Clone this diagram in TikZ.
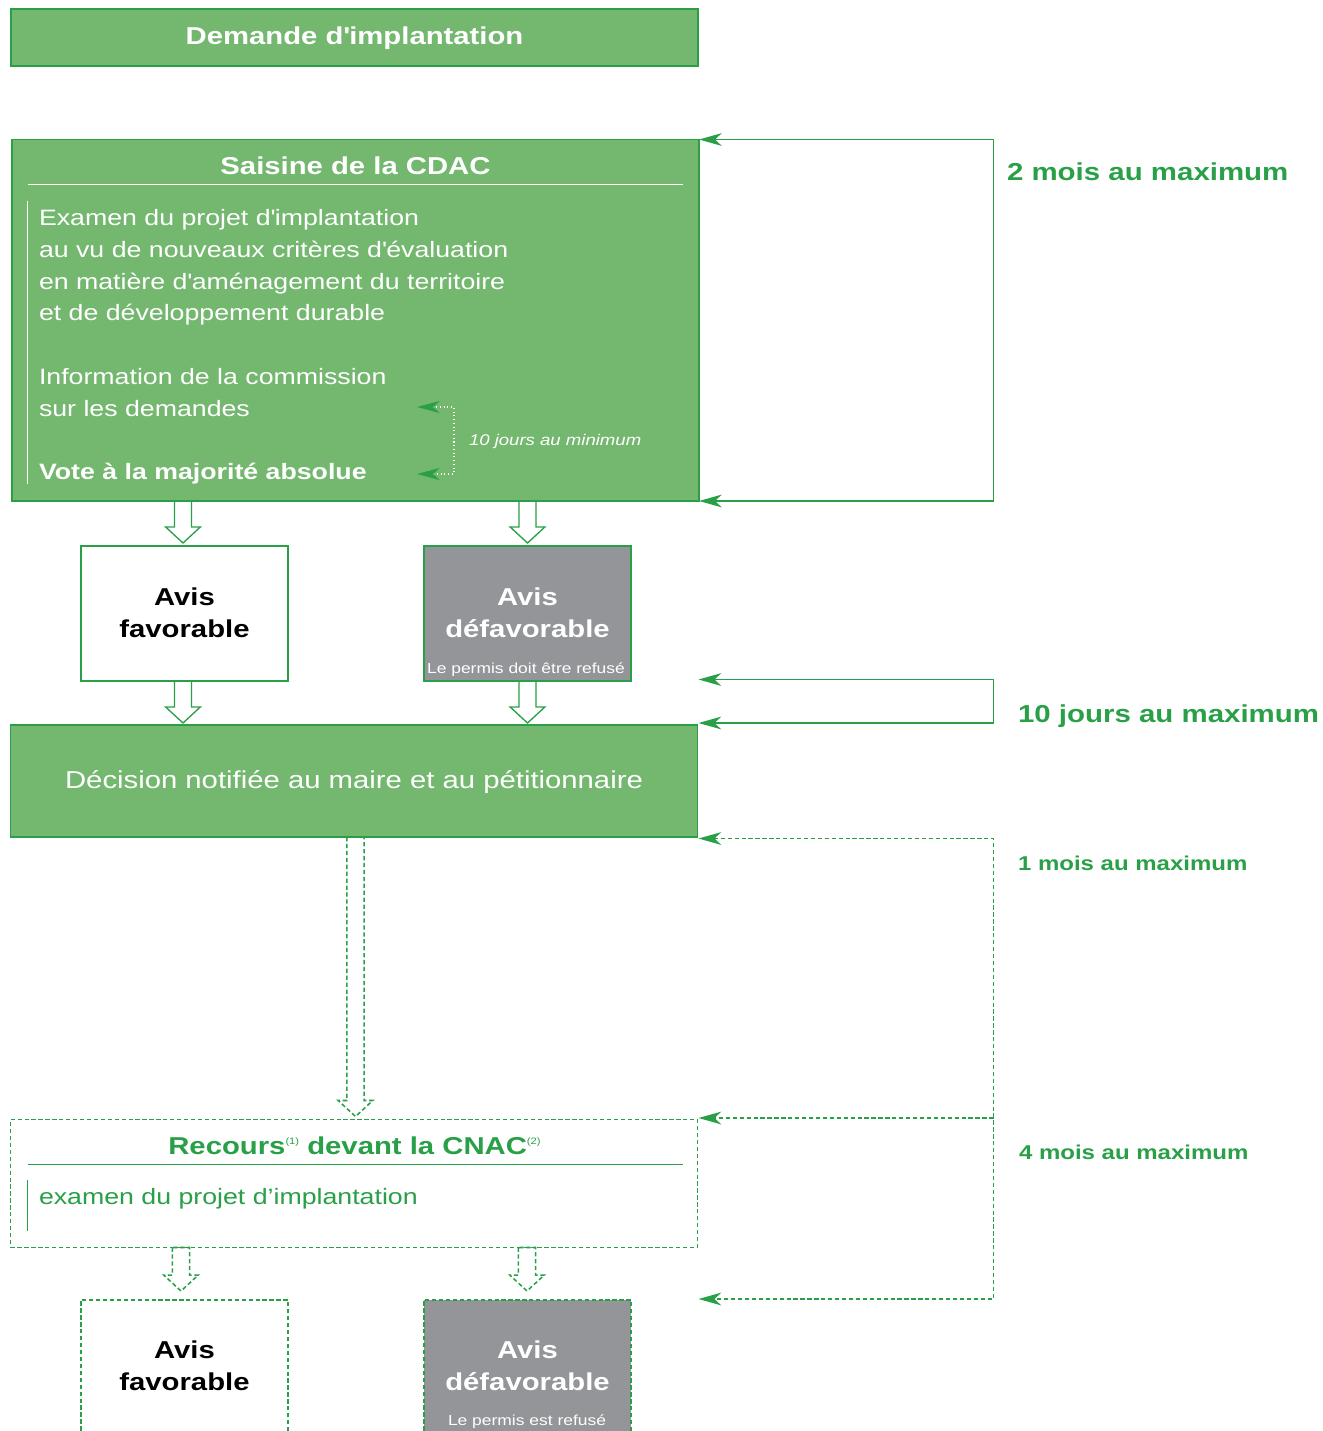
\documentclass[tikz,border=0pt]{standalone}
\usepackage{fontspec}
\setmainfont[FakeStretch=1.2]{Liberation Sans}
\usetikzlibrary{arrows.meta,calc}
\definecolor{boxgreen}{RGB}{116,184,112}
\definecolor{linegreen}{RGB}{41,160,72}
\definecolor{txtgreen}{RGB}{41,160,72}
\definecolor{avisgray}{RGB}{147,149,152}
\newcommand\fTitle{\fontsize{18.3}{22}\selectfont\bfseries}
\newcommand\fBody{\fontsize{16.7}{20}\selectfont}
\newcommand\fItal{\fontsize{11.6}{14}\selectfont\itshape}
\newcommand\fSmall{\fontsize{10.9}{13}\selectfont}
\newcommand\fLabel{\fontsize{18.4}{22}\selectfont\bfseries}
\newcommand\fLabelS{\fontsize{15}{18}\selectfont\bfseries}
\newcommand\aq{\textquotesingle}
\newcommand\supn[1]{{\fontsize{7}{7}\selectfont\mdseries\raisebox{7pt}{(#1)}}}
\newcommand\hollowarrow[3][]{%
  \draw[#1] let \p1=(#2), \p2=(#3) in
    (\x2-6.4pt,\y1) -- (\x2-6.4pt,\y2+12pt) -- (\x2-13pt,\y2+12pt) -- (\x2,\y2)
    -- (\x2+13pt,\y2+12pt) -- (\x2+6.4pt,\y2+12pt) -- (\x2+6.4pt,\y1) -- cycle;}
\tikzset{gtip/.tip={Stealth[length=17pt,width=9.5pt,inset=5pt]}}
\begin{document}
\begin{tikzpicture}[x=0.75pt,y=-0.75pt,
  gbox/.style={draw=linegreen, line width=1pt, fill=boxgreen, inner sep=0pt, outer sep=0pt, minimum width=515.25pt},
  wbox/.style={draw=linegreen, line width=1pt, fill=white, inner sep=0pt, outer sep=0pt, minimum width=155.25pt, minimum height=101.25pt},
  ybox/.style={wbox, fill=avisgray},
  dsh/.style={dash pattern=on 3.2pt off 2pt, line width=1.15pt},
  txt/.style={inner sep=0pt, outer sep=0pt, anchor=base},
  wtxt/.style={txt, text=white},
  btxt/.style={txt, anchor=base west, text=white},
  gtxt/.style={txt, anchor=base west, text=txtgreen},
  harrow/.style={draw=linegreen, line width=1pt, line join=miter},
  darrow/.style={harrow, dsh},
  brk/.style={draw=linegreen, line width=1.05pt, arrows={gtip-gtip}},
  brkone/.style={draw=linegreen, line width=1.05pt, arrows={-gtip}},
  minbr/.style={draw=white, line width=0.8pt, dotted, arrows={Stealth[length=17pt,width=9pt,inset=5pt,color=linegreen]-Stealth[length=17pt,width=9pt,inset=5pt,color=linegreen]}}
]
\useasboundingbox (0,0) rectangle (1322,1431);
\clip (0,0) rectangle (1322,1431);

% Demande
\node[gbox, minimum height=42.75pt] (demande) at (354.5,37.5) {};
\node[wtxt] (demandet) at (354.5,44) {\fTitle Demande d\aq implantation};

% CDAC
\node[gbox, minimum height=271.1pt] (cdac) at (355.5,320.25) {};
\node[wtxt] (cdact) at (355.5,174.5) {\fTitle Saisine de la CDAC};
\draw[white, line width=0.7pt] (28,184) -- (683,184);
\draw[white, line width=0.7pt] (27.5,201) -- (27.5,484);
\node[btxt] (b1) at (39,225) {\fBody Examen du projet d\aq implantation};
\node[btxt] (b2) at (39,257) {\fBody au vu de nouveaux critères d\aq évaluation};
\node[btxt] (b3) at (39,289) {\fBody en matière d\aq aménagement du territoire};
\node[btxt] (b4) at (39,320.5) {\fBody et de développement durable};
\node[btxt] (b5) at (39,384.5) {\fBody Information de la commission};
\node[btxt] (b6) at (39,416.5) {\fBody sur les demandes};
\node[btxt] (b7) at (39,479.5) {\fBody\bfseries Vote à la majorité absolue};
\coordinate (m1) at (417,407);
\coordinate (m2) at (417,474);
\coordinate (mx) at (454,0);
\draw[minbr] (m1) -- (m1 -| mx) -- (m2 -| mx) -- (m2);
\node[btxt] (mint) at (469,445.5) {\fItal 10 jours au minimum};

% Avis
\node[wbox] (fav) at (184.5,613.5) {};
\node[txt] (favt1) at (184.5,605) {\fTitle Avis};
\node[txt] (favt2) at (184.5,637) {\fTitle favorable};
\node[ybox] (defav) at (527.5,613.5) {};
\node[wtxt] (defavt1) at (527.5,605) {\fTitle Avis};
\node[wtxt] (defavt2) at (527.5,637) {\fTitle défavorable};
\node[wtxt] (defavt3) at (526,673) {\fSmall Le permis doit être refusé};

% Decision
\node[gbox, minimum height=84pt] (dec) at (354,781) {};
\node[wtxt] (dect) at (354,788) {\fontsize{18.3}{22}\selectfont Décision notifiée au maire et au pétitionnaire};

% Recours
\node[wbox, dsh, minimum width=515.25pt, minimum height=96pt] (recours) at (354,1183.5) {};
\node[txt, text=txtgreen] (recourst) at (354.5,1154) {\fTitle Recours\supn{1} devant la CNAC\supn{2}};
\draw[linegreen, line width=0.8pt] (28,1164.3) -- (683,1164.3);
\draw[linegreen, line width=0.8pt] (27.5,1180) -- (27.5,1231);
\node[gtxt] (recb) at (39,1204) {\fBody examen du projet d’implantation};

% bottom avis
\node[wbox, dsh, minimum height=120pt] (fav2) at (184.5,1380) {};
\node[txt] (fav2t1) at (184.5,1358) {\fTitle Avis};
\node[txt] (fav2t2) at (184.5,1390) {\fTitle favorable};
\node[ybox, dsh, minimum height=120pt] (defav2) at (527.5,1380) {};
\node[wtxt] (defav2t1) at (527.5,1358) {\fTitle Avis};
\node[wtxt] (defav2t2) at (527.5,1390) {\fTitle défavorable};
\node[wtxt] (defav2t3) at (527,1425) {\fSmall Le permis est refusé};

% hollow arrows
\hollowarrow[harrow]{cdac.south}{$(fav.north)+(-1.5,-3)$}
\hollowarrow[harrow]{cdac.south}{$(defav.north)+(0,-3)$}
\hollowarrow[harrow]{fav.south}{$(dec.north)!(fav.north)!(dec.north east)+(-1.5,-2)$}
\hollowarrow[harrow]{defav.south}{$(dec.north)!(defav.north)!(dec.north east)+(0,-2)$}
\hollowarrow[darrow]{dec.south}{$(recours.north)+(1.5,-3)$}
\hollowarrow[darrow]{recours.south}{$(fav2.north)+(-3.5,-9)$}
\hollowarrow[darrow]{recours.south}{$(defav2.north)+(-0.5,-9)$}

% right brackets
\coordinate (rx) at (993.5,0);
\draw[brk] (cdac.north east) -- (cdac.north east -| rx) -- (cdac.south east -| rx) -- (cdac.south east);
\draw[brk] ($(dec.north east |- defav.south)+(1,-1.5)$) -- ($(defav.south -| rx)+(0,-1.5)$) -- ($(dec.north east -| rx)+(0,-2)$) -- ($(dec.north east)+(1,-2)$);
\draw[brk, dsh] ($(dec.south east)+(1,1.5)$) -- ($(dec.south east -| rx)+(0,1.5)$) -- ($(fav2.north -| rx)+(0,-1)$) -- ($(recours.east |- fav2.north)+(1,-1)$);
\draw[brkone, dsh] ($(recours.north east -| rx)+(0,-1.5)$) -- ($(recours.north east)+(1,-1.5)$);

\node[gtxt] (lab1) at (1007,180) {\fLabel 2 mois au maximum};
\node[gtxt] (lab2) at (1018,722) {\fLabel 10 jours au maximum};
\node[gtxt] (lab3) at (1018,870) {\fLabelS 1 mois au maximum};
\node[gtxt] (lab4) at (1019,1159.5) {\fLabelS 4 mois au maximum};
\end{tikzpicture}
\end{document}
